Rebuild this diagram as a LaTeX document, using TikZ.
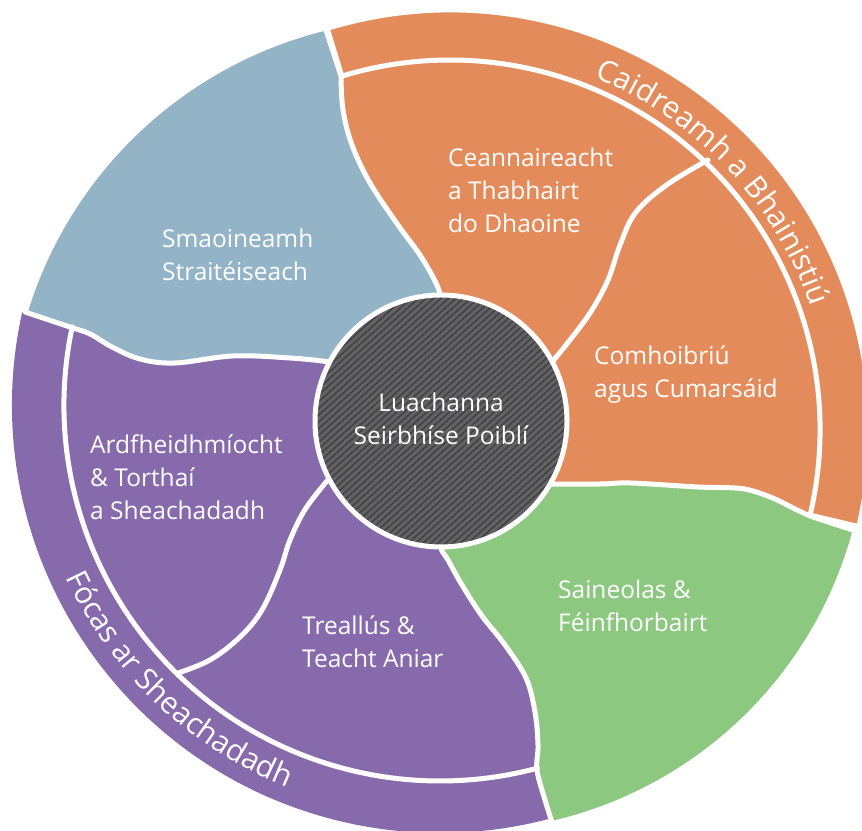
\documentclass[tikz,border=0pt]{standalone}
\usepackage{fontspec}
\setmainfont{Open Sans}
\usetikzlibrary{calc,patterns.meta,decorations.text}
\definecolor{stratblue}{RGB}{146,180,198}
\definecolor{relorange}{RGB}{228,139,92}
\definecolor{growgreen}{RGB}{140,200,127}
\definecolor{delpurple}{RGB}{135,106,172}
\definecolor{coregrey}{RGB}{98,98,100}
\definecolor{corestripe}{RGB}{66,66,68}
\newcommand\piecefont{\fontsize{24.5}{33}\selectfont}
\newcommand\bandfont{\fontsize{30}{30}\selectfont}

\begin{document}
\begin{tikzpicture}[x=1pt,y=1pt,
 piece/.style={draw=white,line width=5pt,line join=round},
 seam/.style={draw=white,line width=5pt,line cap=round},
 piecetext/.style={text=white,font=\piecefont,align=left,anchor=north west,inner sep=0pt},
 bandtext/.style={decorate,decoration={text along path,text align=center,text color=white}}]
\useasboundingbox (0,0) rectangle (862,830);
\coordinate (Cc) at (441,409); % core
\coordinate (Co) at (450,400); % orange band
\coordinate (Cb) at (425,396); % blue
\coordinate (Cp) at (440,425); % purple
\coordinate (Cg) at (460,405); % green

% purple and inner orange, trimmed later by blue and green
\fill[delpurple] ($(Cp)+(167.5:428)$) arc[start angle=167.5,end angle=285,radius=428] -- (600,130) -- (Cc) -- (200,580) -- cycle;
\fill[relorange] ($(Co)+(107:370)$) arc[start angle=107,end angle=-13.3,radius=370] -- (700,270) -- (Cc) -- (300,580) -- cycle;
\filldraw[piece,fill=relorange] ($(Co)+(107:420)$) arc[start angle=107,end angle=-13.3,radius=420]
 -- ($(Co)+(-13.3:370)$) arc[start angle=-13.3,end angle=107,radius=370] -- cycle;

% blue
\filldraw[piece,fill=stratblue] ($(Cb)+(103.8:418)$) arc[start angle=103.8,end angle=163,radius=418]
 -- plot[smooth,tension=.6] coordinates {(25,518) (70,503) (90,496) (112,483) (140,471) (175,467) (233,474) (290,472) (330,468) (360,463)}
 -- (Cc) -- plot[smooth,tension=.6] coordinates {(442,530) (436,547) (420,575) (398,605) (370,647) (352,685) (343,720) (341,754)} -- cycle;

% green
\filldraw[piece,fill=growgreen] ($(Cg)+(-15:409)$) arc[start angle=-15,end angle=-76.9,radius=409]
 -- plot[smooth,tension=.6] coordinates {(552,8) (545,30) (537,60) (538,85) (535,118) (526,152) (505,185) (482,214) (462,245) (448,270) (441,282) (441,300)}
 -- (Cc) -- plot[smooth,tension=.6] coordinates {(550,346) (600,346) (631,347) (698,343) (735,342) (753,339) (775,331) (795,321) (810,314)} -- cycle;

% seams inside one colour
\draw[seam] ($(Cp)+(168:376)$) arc[start angle=168,end angle=285,radius=376];
\draw[seam] plot[smooth,tension=.6] coordinates {(178,157) (210,170) (240,193) (262,220) (280,260) (290,290) (306,322) (332,355)};
\draw[seam] plot[smooth,tension=.6] coordinates {(708,670) (668,646) (636,618) (620,585) (608,550) (590,517) (566,485) (552,468)};

% core
\fill[coregrey] (Cc) circle[radius=126];
\fill[pattern={Lines[angle=42,distance=5pt,line width=1.6pt]},pattern color=corestripe] (Cc) circle[radius=126];
\draw[white,line width=5pt] (Cc) circle[radius=126];
\node[piecetext,align=center,anchor=north] (core) at (441,437) {Luachanna\\Seirbhíse Poiblí};

\node[piecetext] (strat) at (162,601) {Smaoineamh\\Straitéiseach};
\node[piecetext] (lead) at (448,682) {Ceannaireacht\\a Thabhairt\\do Dhaoine};
\node[piecetext] (collab) at (594,484) {Comhoibriú\\agus Cumarsáid};
\node[piecetext] (perf) at (90,395) {Ardfheidhmíocht\\\& Torthaí\\a Sheachadadh};
\node[piecetext] (resil) at (302,214) {Treallús \&\\Teacht Aniar};
\node[piecetext] (expert) at (558,250) {Saineolas \&\\Féinfhorbairt};

\path[bandtext,decoration={text={|\bandfont|Caidreamh a Bhainistiú}}] ($(Co)+(83.3:381)$) arc[start angle=83.3,end angle=3.3,radius=381];
\path[bandtext,decoration={text={|\bandfont|Fócas ar Sheachadadh}}] ($(Cp)+(186.5:412)$) arc[start angle=186.5,end angle=266.5,radius=412];
\end{tikzpicture}
\end{document}
